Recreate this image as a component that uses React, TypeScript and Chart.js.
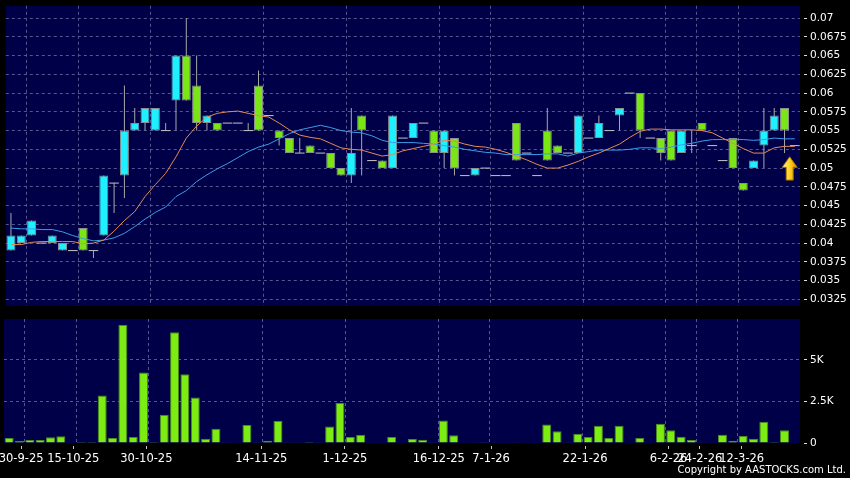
import React, { useEffect, useRef } from "react";
import { Chart, registerables } from "chart.js";

Chart.register(...registerables);

// ---- data ----
const opens = [
  0.039, 0.04, 0.041, 0.04, 0.04, 0.039, 0.039, 0.042, 0.039, 0.041,
  0.048, 0.049, 0.055, 0.056, 0.055, 0.055, 0.059, 0.065, 0.061, 0.056,
  0.056, 0.056, 0.056, 0.055, 0.061, 0.057, 0.055, 0.054, 0.052, 0.053,
  0.052, 0.052, 0.05, 0.049, 0.057, 0.051, 0.051, 0.05, 0.054, 0.054,
  0.056, 0.055, 0.052, 0.054, 0.049, 0.049, 0.05, 0.049, 0.049, 0.056,
  0.052, 0.049, 0.055, 0.053, 0.052, 0.052, 0.054, 0.054, 0.055, 0.057,
  0.06, 0.06, 0.054, 0.054, 0.055, 0.052, 0.053, 0.056, 0.053, 0.051,
  0.054, 0.048, 0.05, 0.053, 0.055, 0.058, 0.053,
];
const highs = [
  0.044, 0.041, 0.043, 0.04, 0.041, 0.04, 0.039, 0.042, 0.039, 0.049,
  0.048, 0.061, 0.058, 0.058, 0.058, 0.056, 0.065, 0.07, 0.065, 0.057,
  0.056, 0.056, 0.056, 0.056, 0.063, 0.057, 0.055, 0.054, 0.054, 0.053,
  0.052, 0.052, 0.05, 0.058, 0.057, 0.051, 0.051, 0.057, 0.054, 0.056,
  0.056, 0.055, 0.055, 0.054, 0.049, 0.05, 0.05, 0.049, 0.049, 0.056,
  0.052, 0.049, 0.058, 0.053, 0.052, 0.057, 0.054, 0.057, 0.055, 0.058,
  0.06, 0.06, 0.054, 0.054, 0.055, 0.055, 0.055, 0.056, 0.053, 0.051,
  0.054, 0.048, 0.051, 0.058, 0.058, 0.058, 0.053,
];
const lows = [
  0.039, 0.04, 0.041, 0.04, 0.04, 0.039, 0.039, 0.039, 0.038, 0.041,
  0.044, 0.046, 0.055, 0.055, 0.055, 0.055, 0.055, 0.059, 0.055, 0.055,
  0.055, 0.056, 0.056, 0.055, 0.055, 0.057, 0.053, 0.052, 0.052, 0.052,
  0.052, 0.05, 0.049, 0.048, 0.049, 0.051, 0.05, 0.05, 0.054, 0.054,
  0.056, 0.052, 0.05, 0.049, 0.049, 0.049, 0.05, 0.049, 0.049, 0.051,
  0.052, 0.049, 0.051, 0.052, 0.052, 0.052, 0.054, 0.054, 0.055, 0.055,
  0.06, 0.054, 0.054, 0.051, 0.051, 0.052, 0.052, 0.055, 0.053, 0.051,
  0.05, 0.047, 0.05, 0.05, 0.055, 0.052, 0.053,
];
const closes = [
  0.041, 0.041, 0.043, 0.04, 0.041, 0.04, 0.039, 0.039, 0.039, 0.049,
  0.048, 0.055, 0.056, 0.058, 0.058, 0.055, 0.065, 0.059, 0.056, 0.057,
  0.055, 0.056, 0.056, 0.055, 0.055, 0.057, 0.054, 0.052, 0.052, 0.052,
  0.052, 0.05, 0.049, 0.052, 0.055, 0.051, 0.05, 0.057, 0.054, 0.056,
  0.056, 0.052, 0.055, 0.05, 0.049, 0.05, 0.05, 0.049, 0.049, 0.051,
  0.052, 0.049, 0.051, 0.052, 0.052, 0.057, 0.054, 0.056, 0.055, 0.058,
  0.06, 0.055, 0.054, 0.052, 0.051, 0.055, 0.053, 0.055, 0.053, 0.051,
  0.05, 0.047, 0.051, 0.055, 0.057, 0.055, 0.053,
];
const maShort = [
  0.0398, 0.0398, 0.0401, 0.0402, 0.0402, 0.0402, 0.0402, 0.0399, 0.04, 0.0404,
  0.0416, 0.043, 0.0442, 0.0462, 0.0478, 0.0493, 0.0515, 0.054, 0.0556, 0.0568,
  0.0573, 0.0575, 0.0576, 0.0573, 0.057, 0.0568, 0.056, 0.0551, 0.0544, 0.0541,
  0.0539, 0.0533, 0.0527, 0.0525, 0.0524, 0.052, 0.0516, 0.0518, 0.0523, 0.0526,
  0.0529, 0.0532, 0.0537, 0.0536, 0.0532, 0.0529, 0.0528, 0.0525, 0.0521, 0.0516,
  0.0511, 0.0505, 0.05, 0.05, 0.0504, 0.0509, 0.0515, 0.052, 0.0526, 0.0532,
  0.0541, 0.0549, 0.0552, 0.0552, 0.0551, 0.0551, 0.0551, 0.055, 0.0547, 0.054,
  0.0533, 0.0526, 0.052, 0.052, 0.0527, 0.0529, 0.0529,
];
const maLong = [
  0.042, 0.0419, 0.0419, 0.0418, 0.0418, 0.0415, 0.041, 0.0406, 0.0403, 0.0404,
  0.0407, 0.0413, 0.0422, 0.0432, 0.0441, 0.0448, 0.0462, 0.047, 0.0482, 0.0491,
  0.0499, 0.0506, 0.0514, 0.0522, 0.0528, 0.0532, 0.0539, 0.0546, 0.0551, 0.0554,
  0.0557, 0.0554, 0.055, 0.0548, 0.0547, 0.0543, 0.0537, 0.0534, 0.0534, 0.0534,
  0.0533, 0.0532, 0.053, 0.0528, 0.0525, 0.0523, 0.0521, 0.052, 0.0518, 0.0518,
  0.0518, 0.0518, 0.0519, 0.0519, 0.0516, 0.052, 0.0522, 0.0524, 0.0524, 0.0524,
  0.0525, 0.0527, 0.0527, 0.0526, 0.0528, 0.0531, 0.0533, 0.0536, 0.0538, 0.0538,
  0.0538, 0.0538, 0.0537, 0.0538, 0.054, 0.0539, 0.0539,
];
const volumes = [
  300, 120, 180, 180, 340, 400, 0, 60, 60, 2860,
  300, 7100, 360, 4240, 60, 1700, 6660, 4140, 2740, 260,
  860, 40, 0, 1080, 40, 140, 1320, 20, 20, 60,
  20, 1000, 2400, 360, 500, 0, 0, 360, 0, 240,
  200, 20, 1360, 460, 0, 20, 10, 0, 0, 20,
  0, 0, 1120, 700, 40, 560, 360, 1040, 300, 1040,
  0, 300, 0, 1160, 760, 380, 180, 20, 0, 500,
  140, 440, 260, 1280, 60, 760, 0,
];
const tickSlots = [2, 7, 14, 25, 33, 42, 47, 56, 64, 67, 71];
const tickLabels = [
  "30-9-25", "15-10-25", "30-10-25", "14-11-25", "1-12-25", "16-12-25",
  "7-1-26", "22-1-26", "6-2-26", "24-2-26", "12-3-26",
];
const priceTicks = [
  0.0325, 0.035, 0.0375, 0.04, 0.0425, 0.045, 0.0475, 0.05, 0.0525, 0.055,
  0.0575, 0.06, 0.0625, 0.065, 0.0675, 0.07,
];
const volumeTicks = [0, 2500, 5000];
const volumeTickLabels = ["0", "2.5K", "5K"];
const arrowMark = { slot: 75.5, top: 0.0515, bottom: 0.0484 };

// ---- styles ----
const FONT = "DejaVu Sans";
const NAVY = "#000048";
const GRID = "#55558f";
const CYAN = "#1ef0ff";
const GREEN = "#7be615";
const BODY_BORDER = "#8c9090";
const WICK = "#a8a8a8";
const DOJI = "#c4c4c4";
const ORANGE = "#e48a55";
const BLUE = "#3a9ee6";
const VOL = "#7cec12";
const VOL_BORDER = "#4a8a1c";

const plotBg = {
  id: "plotBg",
  beforeDraw(chart: any) {
    const { ctx, chartArea: a } = chart;
    ctx.save();
    ctx.fillStyle = NAVY;
    ctx.fillRect(a.left, a.top, a.right - a.left, a.bottom - a.top);
    ctx.restore();
  },
};

const arrowPlugin = {
  id: "arrowMark",
  afterDatasetsDraw(chart: any) {
    const { ctx, scales } = chart;
    const cx = scales.x.getPixelForValue(arrowMark.slot);
    const top = scales.y.getPixelForValue(arrowMark.top);
    const bot = scales.y.getPixelForValue(arrowMark.bottom);
    const hw = 7.5;
    const sw = 3.5;
    const headH = (bot - top) * 0.45;
    ctx.save();
    const g = ctx.createLinearGradient(cx - hw, 0, cx + hw, 0);
    g.addColorStop(0, "#fff4a8");
    g.addColorStop(0.5, "#ffd21e");
    g.addColorStop(1, "#d88f00");
    ctx.beginPath();
    ctx.moveTo(cx, top);
    ctx.lineTo(cx + hw, top + headH);
    ctx.lineTo(cx + sw, top + headH);
    ctx.lineTo(cx + sw, bot);
    ctx.lineTo(cx - sw, bot);
    ctx.lineTo(cx - sw, top + headH);
    ctx.lineTo(cx - hw, top + headH);
    ctx.closePath();
    ctx.fillStyle = g;
    ctx.fill();
    ctx.strokeStyle = "#a87000";
    ctx.lineWidth = 1;
    ctx.stroke();
    ctx.restore();
  },
};

const slotGridX = () => ({
  type: "linear",
  min: -0.5,
  max: opens.length - 0.5,
  bounds: "data",
  offset: false,
  afterBuildTicks: (s: any) => {
    s.ticks = tickSlots.map((v) => ({ value: v - 0.5 }));
  },
  afterFit: (s: any) => {
    s.height = 0;
    s.paddingLeft = 0;
    s.paddingRight = 0;
  },
  grid: { color: GRID, lineWidth: 1, drawTicks: false, offset: false },
  border: { display: false, dash: [3, 3] },
  ticks: { display: false },
});

export default function App() {
  const priceRef = useRef<HTMLCanvasElement>(null);
  const volRef = useRef<HTMLCanvasElement>(null);

  useEffect(() => {
    const n = opens.length;
    const wickData: any[] = [];
    const bodyData: any[] = [];
    const bodyColors: string[] = [];
    const dojiData: any[] = [];
    for (let i = 0; i < n; i++) {
      wickData.push({ x: i, y: [lows[i], highs[i]] });
      if (opens[i] === closes[i]) {
        dojiData.push({ x: i, y: opens[i] });
      } else {
        bodyData.push({ x: i, y: [Math.min(opens[i], closes[i]), Math.max(opens[i], closes[i])] });
        bodyColors.push(closes[i] > opens[i] ? CYAN : GREEN);
      }
    }
    const shortData = maShort.map((v, i) => ({ x: i, y: v }));
    const longData = maLong.map((v, i) => ({ x: i, y: v }));
    const volData = volumes.map((v, i) => ({ x: i, y: v }));

    const priceChart = new Chart(priceRef.current as HTMLCanvasElement, {
      type: "bar",
      data: {
        datasets: [
          {
            type: "line",
            data: shortData,
            borderColor: ORANGE,
            borderWidth: 1,
            pointRadius: 0,
            tension: 0,
            order: 0,
          } as any,
          {
            type: "line",
            data: longData,
            borderColor: BLUE,
            borderWidth: 1,
            pointRadius: 0,
            tension: 0,
            order: 1,
          } as any,
          {
            type: "line",
            data: dojiData,
            showLine: false,
            pointStyle: "line",
            pointRadius: 4.8,
            pointBorderColor: DOJI,
            pointBorderWidth: 1,
            order: 2,
          } as any,
          {
            type: "bar",
            data: bodyData,
            backgroundColor: bodyColors,
            borderColor: BODY_BORDER,
            borderWidth: 1,
            borderSkipped: false,
            barThickness: 9,
            grouped: false,
            inflateAmount: 0,
            order: 3,
          } as any,
          {
            type: "bar",
            data: wickData,
            backgroundColor: WICK,
            borderWidth: 0,
            barThickness: 1,
            grouped: false,
            inflateAmount: 0,
            order: 4,
          } as any,
        ],
      },
      options: {
        responsive: false,
        animation: false,
        devicePixelRatio: 1,
        events: [],
        layout: { padding: { left: 4, top: 5, right: 0, bottom: 6 } },
        plugins: { legend: { display: false }, tooltip: { enabled: false } },
        scales: {
          x: slotGridX(),
          y: {
            type: "linear",
            position: "right",
            min: 0.03161,
            max: 0.07164,
            bounds: "data",
            afterBuildTicks: (s: any) => {
              s.ticks = priceTicks.map((v) => ({ value: v }));
            },
            afterFit: (s: any) => {
              s.width = 50;
              s.paddingTop = 0;
              s.paddingBottom = 0;
            },
            grid: {
              color: GRID,
              lineWidth: 1,
              drawTicks: true,
              tickLength: 7,
              tickColor: "#e0e0e0",
              tickBorderDash: [0, 4, 3, 40],
            },
            border: { display: false, dash: [3, 3] },
            ticks: {
              color: "#ffffff",
              padding: 3,
              font: { family: FONT, size: 10.5 },
              callback: (_v: any, i: number) => String(priceTicks[i]),
            },
          } as any,
        },
      } as any,
      plugins: [plotBg, arrowPlugin],
    });

    const volChart = new Chart(volRef.current as HTMLCanvasElement, {
      type: "bar",
      data: {
        datasets: [
          {
            data: volData,
            backgroundColor: VOL,
            borderColor: VOL_BORDER,
            borderWidth: 1,
            borderSkipped: "start",
            barThickness: 9,
            grouped: false,
            inflateAmount: 0,
          } as any,
        ],
      },
      options: {
        responsive: false,
        animation: false,
        devicePixelRatio: 1,
        events: [],
        layout: { padding: { left: 4, top: 7, right: 0, bottom: 0 } },
        plugins: { legend: { display: false }, tooltip: { enabled: false } },
        scales: {
          x: slotGridX(),
          xl: {
            type: "linear",
            position: "bottom",
            min: -0.135,
            max: 76.08,
            bounds: "data",
            offset: false,
            afterBuildTicks: (s: any) => {
              s.ticks = tickSlots.map((v) => ({ value: v - 0.5 }));
            },
            afterFit: (s: any) => {
              s.height = 35;
              s.paddingLeft = 0;
              s.paddingRight = 0;
            },
            grid: {
              display: true,
              offset: false,
              drawOnChartArea: false,
              drawTicks: true,
              tickLength: 6,
              tickColor: "#c8c8c8",
              tickBorderDash: [0, 3, 3, 40],
            },
            border: { display: false },
            ticks: {
              autoSkip: false,
              maxRotation: 0,
              minRotation: 0,
              padding: 3,
              color: "#ffffff",
              font: { family: FONT, size: 11.5 },
              callback: (_v: any, i: number) => tickLabels[i],
            },
          },
          y: {
            type: "linear",
            position: "right",
            min: 0,
            max: 7460,
            bounds: "data",
            afterBuildTicks: (s: any) => {
              s.ticks = volumeTicks.map((v) => ({ value: v }));
            },
            afterFit: (s: any) => {
              s.width = 50;
              s.paddingTop = 0;
              s.paddingBottom = 0;
            },
            grid: {
              color: (c: any) => (c.tick && c.tick.value === 0 ? "rgba(0,0,0,0)" : GRID),
              lineWidth: 1,
              drawTicks: true,
              tickLength: 7,
              tickColor: "#e0e0e0",
              tickBorderDash: [0, 4, 3, 40],
            },
            border: { display: false, dash: [3, 3] },
            ticks: {
              color: "#ffffff",
              padding: 3,
              font: { family: FONT, size: 10.5 },
              callback: (_v: any, i: number) => volumeTickLabels[i],
            },
          },
        },
      } as any,
      plugins: [plotBg],
    });

    return () => {
      priceChart.destroy();
      volChart.destroy();
    };
  }, []);

  return (
    <div
      style={{
        position: "fixed",
        left: 0,
        top: 0,
        width: 850,
        height: 478,
        background: "#000",
        overflow: "hidden",
      }}
    >
      <canvas
        ref={priceRef}
        width={850}
        height={312}
        style={{ position: "absolute", left: 0, top: 0, width: 850, height: 312 }}
      />
      <canvas
        ref={volRef}
        width={850}
        height={166}
        style={{ position: "absolute", left: 0, top: 312, width: 850, height: 166 }}
      />
      <div
        style={{
          position: "absolute",
          right: 4,
          top: 464,
          color: "#fff",
          fontFamily: FONT,
          fontSize: 10,
          lineHeight: "12px",
          whiteSpace: "nowrap",
        }}
      >
        Copyright by AASTOCKS.com Ltd.
      </div>
    </div>
  );
}
